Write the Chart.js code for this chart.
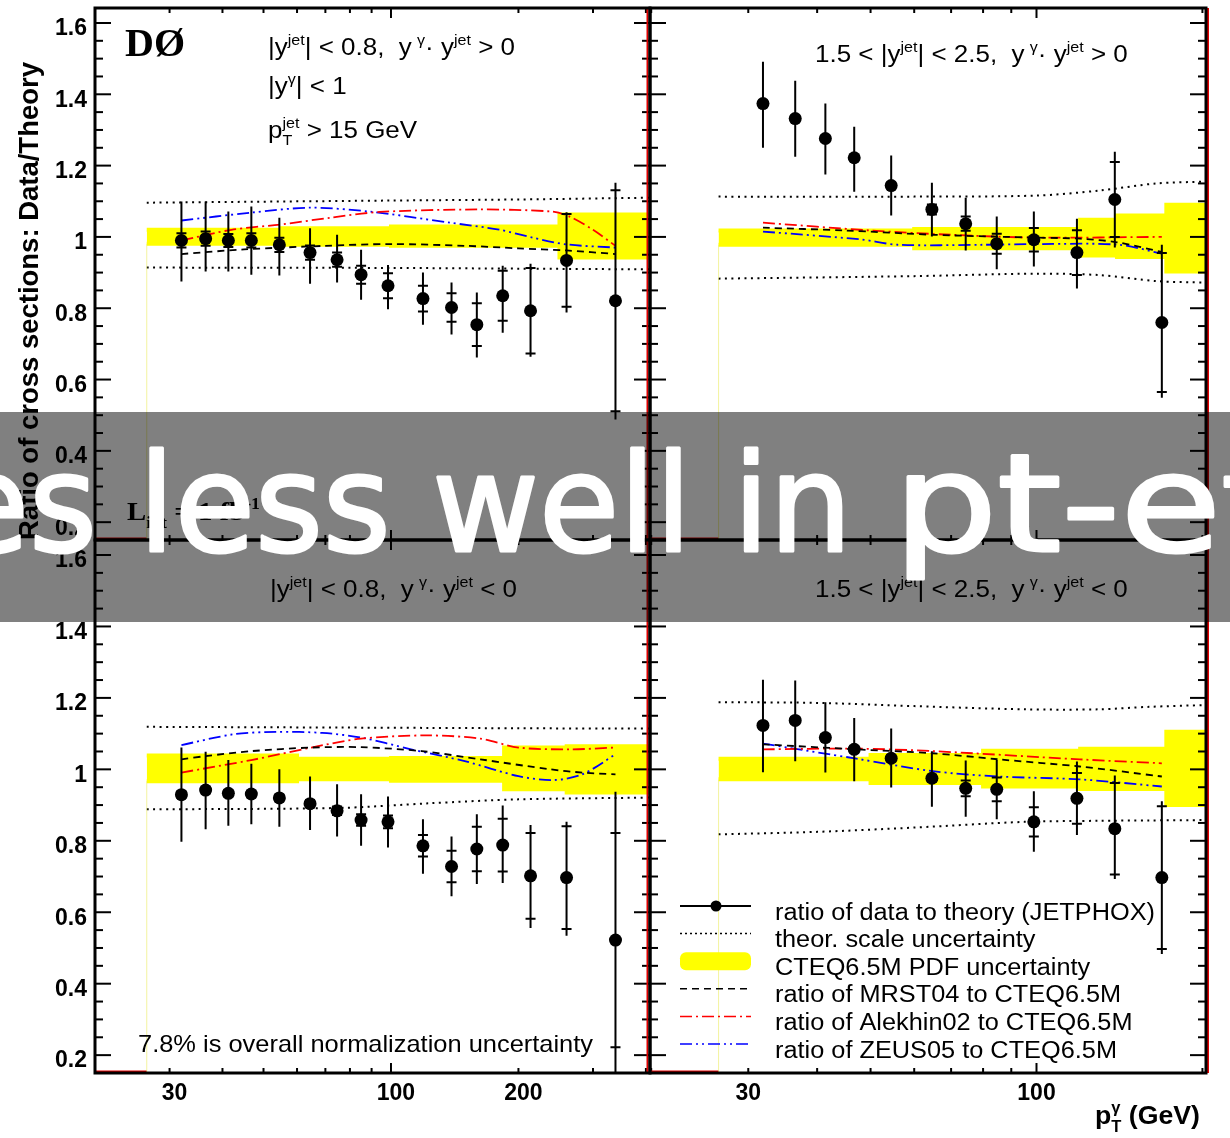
<!DOCTYPE html>
<html>
<head>
<meta charset="utf-8">
<script src="https://cdn.jsdelivr.net/npm/chart.js@4.4.1/dist/chart.umd.min.js"></script>
<style>
  body { margin: 0; background: #fff; }
  #page { position: relative; width: 1230px; height: 1138px; overflow: hidden; background: #fff; }
  #page canvas { position: absolute; left: 0; top: 0; }
  #shade { position: absolute; left: 0; top: 412px; width: 1230px; height: 210px; background: #808080; mix-blend-mode: multiply; }
</style>
</head>
<body>
<div id="page">
  <canvas id="tl" width="1230" height="1138"></canvas>
  <canvas id="tr" width="1230" height="1138"></canvas>
  <canvas id="bl" width="1230" height="1138"></canvas>
  <canvas id="br" width="1230" height="1138"></canvas>
  <div id="shade"></div>
  <canvas id="caption" width="1230" height="1138"></canvas>
</div>
<script>
// photon pT bin positions (GeV)
const ptCentral = [32, 36.5, 41.3, 46.8, 54.5, 64.4, 74.6, 85, 98.4, 119, 139, 159.5, 183.6, 213.6, 259.8, 339];
const ptForward = [31.9, 36.5, 41.4, 46.7, 54.5, 64.6, 74.4, 84.7, 98.9, 118.4, 138.7, 168.8];

// |y jet| < 0.8, y_gamma*y_jet > 0
const cpRatio = [0.990, 0.995, 0.990, 0.990, 0.978, 0.956, 0.936, 0.894, 0.863, 0.827, 0.802, 0.754, 0.835, 0.793, 0.934, 0.821];
const cpUp    = [0.109, 0.104, 0.081, 0.095, 0.076, 0.068, 0.070, 0.070, 0.058, 0.073, 0.070, 0.090, 0.084, 0.132, 0.135, 0.331];
const cpDn    = [0.115, 0.092, 0.087, 0.096, 0.086, 0.087, 0.064, 0.070, 0.066, 0.073, 0.076, 0.092, 0.104, 0.129, 0.146, 0.333];
const cpStat  = [0.020, 0.020, 0.018, 0.020, 0.020, 0.020, 0.020, 0.025, 0.035, 0.036, 0.040, 0.060, 0.070, 0.120, 0.130, 0.310];
const cpScalePt = [26.5, 100, 200, 409];
const cpScaleHi = [1.096, 1.102, 1.105, 1.110];
const cpScaleLo = [0.914, 0.913, 0.911, 0.909];
const cpMrstPt = [32, 45, 70, 100, 150, 200, 260, 339];
const cpMrst   = [0.952, 0.965, 0.975, 0.980, 0.975, 0.968, 0.962, 0.952];
const cpAlekPt = [32, 42, 55, 72, 94, 160, 240, 264, 300, 339];
const cpAlek   = [0.990, 1.020, 1.035, 1.054, 1.070, 1.077, 1.071, 1.057, 1.020, 0.975];
const cpZeusPt = [32, 46.6, 64.4, 89, 137.7, 180.6, 216, 260, 339];
const cpZeus   = [1.046, 1.068, 1.082, 1.071, 1.040, 1.020, 0.998, 0.979, 0.970];
const cpBandPt = [26.5, 55, 100, 250, 409];
const cpBandHi = [1.020, 1.024, 1.029, 1.063, 1.063];
const cpBandLo = [0.981, 0.978, 0.975, 0.942, 0.942];

// 1.5 < |y jet| < 2.5, y_gamma*y_jet > 0
const fpRatio = [1.374, 1.332, 1.276, 1.222, 1.144, 1.077, 1.037, 0.981, 0.992, 0.956, 1.105, 0.760];
const fpUp    = [0.117, 0.106, 0.098, 0.087, 0.084, 0.075, 0.073, 0.076, 0.079, 0.095, 0.134, 0.218];
const fpDn    = [0.124, 0.107, 0.101, 0.095, 0.084, 0.076, 0.075, 0.072, 0.075, 0.101, 0.135, 0.211];
const fpStat  = [0.008, 0.008, 0.008, 0.008, 0.008, 0.014, 0.020, 0.028, 0.033, 0.063, 0.105, 0.195];
const fpScalePt = [26.5, 60, 100, 130, 165, 203];
const fpScaleHi = [1.113, 1.113, 1.116, 1.130, 1.150, 1.155];
const fpScaleLo = [0.883, 0.890, 0.897, 0.893, 0.876, 0.872];
const fpMrstPt = [31.9, 45, 65, 100, 120, 140, 168.8];
const fpMrst   = [1.026, 1.018, 1.006, 0.998, 0.995, 0.985, 0.958];
const fpAlekPt = [31.9, 50, 70, 100, 168.8];
const fpAlek   = [1.040, 1.018, 1.006, 0.998, 1.000];
const fpZeusPt = [31.9, 48, 56, 80, 102, 141, 168.8];
const fpZeus   = [1.015, 0.993, 0.978, 0.978, 0.980, 0.978, 0.953];
const fpBandPt = [26.5, 60, 120, 140, 172, 203];
const fpBandHi = [1.018, 1.022, 1.048, 1.060, 1.090, 1.090];
const fpBandLo = [0.978, 0.968, 0.948, 0.944, 0.903, 0.903];

// |y jet| < 0.8, y_gamma*y_jet < 0
const cnRatio = [0.929, 0.942, 0.933, 0.931, 0.920, 0.904, 0.884, 0.858, 0.853, 0.786, 0.728, 0.777, 0.788, 0.702, 0.697, 0.522];
const cnUp    = [0.132, 0.107, 0.093, 0.085, 0.080, 0.076, 0.074, 0.072, 0.071, 0.074, 0.084, 0.097, 0.111, 0.142, 0.156, 0.415];
const cnDn    = [0.132, 0.110, 0.091, 0.085, 0.081, 0.074, 0.072, 0.072, 0.072, 0.078, 0.083, 0.098, 0.106, 0.146, 0.163, 0.420];
const cnStat  = [0.009, 0.009, 0.009, 0.009, 0.009, 0.010, 0.012, 0.016, 0.018, 0.030, 0.044, 0.062, 0.074, 0.120, 0.144, 0.300];
const cnScalePt = [26.5, 75.8, 123, 200, 409];
const cnScaleHi = [1.119, 1.117, 1.116, 1.115, 1.114];
const cnScaleLo = [0.888, 0.892, 0.905, 0.916, 0.921];
const cnMrstPt = [32, 36.5, 46.8, 64.8, 85, 118.3, 162.6, 238, 283, 339];
const cnMrst   = [1.028, 1.037, 1.051, 1.061, 1.062, 1.051, 1.028, 1.000, 0.991, 0.986];
const cnAlekPt = [32, 46.8, 64.8, 85, 122, 162.6, 200, 266, 339];
const cnAlek   = [0.991, 1.026, 1.061, 1.086, 1.095, 1.086, 1.061, 1.056, 1.061];
const cnZeusPt = [32, 42.4, 53.6, 68.8, 85, 111.5, 149.4, 200, 242, 283, 339];
const cnZeus   = [1.068, 1.098, 1.105, 1.102, 1.089, 1.056, 1.023, 0.981, 0.970, 0.986, 1.042];
const cnBandPt = [26.5, 60, 100, 185, 260, 409];
const cnBandHi = [1.039, 1.030, 1.032, 1.061, 1.065, 1.065];
const cnBandLo = [0.967, 0.972, 0.968, 0.944, 0.935, 0.935];

// 1.5 < |y jet| < 2.5, y_gamma*y_jet < 0
const fnRatio = [1.123, 1.137, 1.089, 1.056, 1.031, 0.975, 0.947, 0.944, 0.853, 0.919, 0.834, 0.697];
const fnUp    = [0.128, 0.112, 0.099, 0.088, 0.083, 0.076, 0.078, 0.082, 0.086, 0.103, 0.149, 0.214];
const fnDn    = [0.131, 0.114, 0.098, 0.089, 0.082, 0.080, 0.080, 0.084, 0.084, 0.103, 0.141, 0.214];
const fnStat  = [0.009, 0.009, 0.009, 0.009, 0.009, 0.010, 0.022, 0.033, 0.041, 0.071, 0.128, 0.200];
const fnScalePt = [26.5, 40, 60, 95, 130, 160, 203];
const fnScaleHi = [1.188, 1.186, 1.177, 1.168, 1.168, 1.175, 1.180];
const fnScaleLo = [0.818, 0.825, 0.837, 0.853, 0.856, 0.857, 0.858];
const fnMrstPt = [31.9, 47.1, 64.8, 85.3, 119.8, 168.8];
const fnMrst   = [1.070, 1.056, 1.045, 1.028, 1.008, 0.980];
const fnAlekPt = [31.9, 47.1, 64.8, 119.8, 168.8];
const fnAlek   = [1.056, 1.058, 1.051, 1.028, 1.017];
const fnZeusPt = [31.9, 47.1, 64.8, 85.3, 119.8, 168.8];
const fnZeus   = [1.072, 1.030, 0.995, 0.980, 0.972, 0.952];
const fnBandPt = [26.5, 50, 80, 120, 172, 203];
const fnBandHi = [1.030, 1.040, 1.052, 1.058, 1.105, 1.105];
const fnBandLo = [0.972, 0.962, 0.952, 0.945, 0.900, 0.900];

// axis ticks and labels
const yTickVals = [0.2, 0.4, 0.6, 0.8, 1, 1.2, 1.4, 1.6];
const xLabelsCentral = [30, 100, 200];
const xLabelsForward = [30, 100];
const xTickVals = [20, 30, 40, 50, 60, 70, 80, 90, 100, 200, 300, 400];
const legendLabels = [
  'ratio of data to theory (JETPHOX)',
  'theor. scale uncertainty',
  'CTEQ6.5M PDF uncertainty',
  'ratio of MRST04 to CTEQ6.5M',
  'ratio of Alekhin02 to CTEQ6.5M',
  'ratio of ZEUS05 to CTEQ6.5M'
];

const W = 1230, H = 1138;
const Y_MIN = 0.15, Y_MAX = 1.642;
const SANS = "'Liberation Sans', Arial, sans-serif";
const SERIF = "'Liberation Serif', 'Times New Roman', serif";

// frame of each pad on the page
const frames = {
  tl: { left: 95, right: 650, top: 8, bottom: 540 },
  tr: { left: 650, right: 1206, top: 8, bottom: 540 },
  bl: { left: 95, right: 650, top: 540, bottom: 1073 },
  br: { left: 650, right: 1206, top: 540, bottom: 1073 }
};

const xy = (xs, ys) => xs.map((x, i) => ({ x: x, y: ys[i] }));

// text with super/subscripts: runs of [text, kind]
function measureRuns(ctx, runs, size, weight, family) {
  let w = 0;
  runs.forEach(([t, kind]) => {
    const s = kind ? size * 0.62 : size;
    ctx.font = `${weight} ${s}px ${family}`;
    if (kind === 'subsup') w += Math.max(ctx.measureText(t[0]).width, ctx.measureText(t[1]).width);
    else w += ctx.measureText(t).width;
  });
  return w;
}

function drawRuns(ctx, runs, x, y, size, width, weight, family) {
  weight = weight || 'normal';
  family = family || SANS;
  const sx = width ? width / measureRuns(ctx, runs, size, weight, family) : 1;
  ctx.save();
  ctx.translate(x, y);
  ctx.scale(sx, 1);
  ctx.fillStyle = '#000';
  ctx.textAlign = 'left';
  ctx.textBaseline = 'alphabetic';
  let cx = 0;
  const small = size * 0.62;
  runs.forEach(([t, kind]) => {
    ctx.font = `${weight} ${kind ? small : size}px ${family}`;
    if (kind === 'subsup') {
      ctx.fillText(t[0], cx, size * 0.3);
      ctx.fillText(t[1], cx, -size * 0.42);
      cx += Math.max(ctx.measureText(t[0]).width, ctx.measureText(t[1]).width);
    } else {
      const dy = kind === 'sup' ? -size * 0.42 : kind === 'sub' ? size * 0.3 : 0;
      ctx.fillText(t, cx, dy);
      cx += ctx.measureText(t).width;
    }
  });
  ctx.restore();
}

const cutCentral = (sign) => [['|y', ''], ['jet', 'sup'], ['| < 0.8,  y\u2009', ''], ['\u03b3', 'sup'], ['\u00b7 y', ''], ['jet', 'sup'], [' ' + sign + ' 0', '']];
const cutForward = (sign) => [['1.5 < |y', ''], ['jet', 'sup'], ['| < 2.5,  y\u2009', ''], ['\u03b3', 'sup'], ['\u00b7 y', ''], ['jet', 'sup'], [' ' + sign + ' 0', '']];

function line(ctx, x1, y1, x2, y2) {
  ctx.beginPath();
  ctx.moveTo(x1, y1);
  ctx.lineTo(x2, y2);
  ctx.stroke();
}

// ROOT-like frame with inward ticks on all four sides
function drawFrame(chart, p) {
  const ctx = chart.ctx, a = chart.chartArea;
  const xs = chart.scales.x, ys = chart.scales.y;
  ctx.save();
  ctx.strokeStyle = '#000';
  ctx.lineWidth = 2;
  for (let k = 3; k * 0.05 <= Y_MAX + 1e-9; k++) {
    const v = k * 0.05;
    const len = k % 4 === 0 ? 16 : 8;
    const py = ys.getPixelForValue(v);
    line(ctx, a.left, py, a.left + len, py);
    line(ctx, a.right, py, a.right - len, py);
  }
  xTickVals.forEach(v => {
    if (v < xs.min || v > xs.max) return;
    const len = v === 100 ? 10 : 5;
    const px = xs.getPixelForValue(v);
    line(ctx, px, a.bottom, px, a.bottom - len);
    line(ctx, px, a.top, px, a.top + len);
  });
  // red histogram edges left by the pdf band
  ctx.strokeStyle = '#e00000';
  const bx = xs.getPixelForValue(p.bandPt[0]);
  line(ctx, a.left, a.bottom - 1.5, bx, a.bottom - 1.5);
  const rx = p.side === 'left' ? a.right - 2.5 : a.right + 2;
  line(ctx, rx, a.top, rx, a.bottom);
  ctx.strokeStyle = 'rgba(235,235,80,0.55)';
  ctx.lineWidth = 1;
  line(ctx, bx, ys.getPixelForValue(p.bandLo[0]), bx, a.bottom);
  ctx.strokeStyle = '#000';
  ctx.lineWidth = 3;
  ctx.strokeRect(a.left, a.top, a.right - a.left, a.bottom - a.top);
  ctx.restore();
}

// total error bars, with small bars at the statistical error
function drawErrors(chart, p) {
  const ctx = chart.ctx, a = chart.chartArea;
  const xs = chart.scales.x, ys = chart.scales.y;
  ctx.save();
  ctx.beginPath();
  ctx.rect(a.left, a.top, a.right - a.left, a.bottom - a.top);
  ctx.clip();
  ctx.strokeStyle = '#000';
  ctx.lineWidth = 2;
  p.pt.forEach((x, i) => {
    const px = xs.getPixelForValue(x);
    const v = p.ratio[i];
    ctx.beginPath();
    ctx.moveTo(px, ys.getPixelForValue(v + p.up[i]));
    ctx.lineTo(px, ys.getPixelForValue(v - p.dn[i]));
    [v + p.stat[i], v - p.stat[i]].forEach(s => {
      const py = ys.getPixelForValue(s);
      ctx.moveTo(px - 5, py);
      ctx.lineTo(px + 5, py);
    });
    ctx.stroke();
  });
  ctx.restore();
}

function drawLegend(chart) {
  const ctx = chart.ctx;
  const ds = chart.data.datasets;
  const x0 = 680, x1 = 751, tx = 775;
  const rowY = i => 906 + i * 27.6;
  ctx.save();
  // data
  ctx.strokeStyle = '#000';
  ctx.lineWidth = 2;
  line(ctx, x0, rowY(0), x1, rowY(0));
  ctx.fillStyle = '#000';
  ctx.beginPath();
  ctx.arc(716, rowY(0), 5.5, 0, Math.PI * 2);
  ctx.fill();
  // scale
  ctx.lineWidth = 1.5;
  ctx.setLineDash([2, 3]);
  line(ctx, x0, rowY(1), x1, rowY(1));
  // pdf band
  ctx.setLineDash([]);
  ctx.fillStyle = ds[6].backgroundColor;
  ctx.beginPath();
  ctx.roundRect(x0, rowY(2) - 9, x1 - x0, 18, 6);
  ctx.fill();
  // pdf set ratios
  [1, 2, 3].forEach((k, j) => {
    ctx.strokeStyle = ds[k].borderColor;
    ctx.lineWidth = 1.5;
    ctx.setLineDash(ds[k].borderDash);
    line(ctx, x0, rowY(3 + j), x1, rowY(3 + j));
  });
  ctx.setLineDash([]);
  ctx.restore();
  const w0 = measureRuns(ctx, [[legendLabels[0], '']], 23, 'normal', SANS);
  const sx = 380 / w0;
  legendLabels.forEach((t, i) => {
    const w = measureRuns(ctx, [[t, '']], 23, 'normal', SANS) * sx;
    drawRuns(ctx, [[t, '']], tx, rowY(i) + 13.5, 23, w);
  });
}

// shared horizontal stretch for the selection texts
const annWidth = (ctx, runs) => measureRuns(ctx, runs, 23, 'normal', SANS) * (247 / measureRuns(ctx, cutCentral('>'), 23, 'normal', SANS));

const panels = {
  tl: {
    side: 'left', xMin: 20, xMax: 409, xLabels: null, yLabels: true,
    pt: ptCentral, ratio: cpRatio, up: cpUp, dn: cpDn, stat: cpStat,
    scalePt: cpScalePt, scaleHi: cpScaleHi, scaleLo: cpScaleLo,
    mrstPt: cpMrstPt, mrst: cpMrst, alekPt: cpAlekPt, alek: cpAlek, zeusPt: cpZeusPt, zeus: cpZeus,
    bandPt: cpBandPt, bandHi: cpBandHi, bandLo: cpBandLo,
    annotate(ctx) {
      drawRuns(ctx, [['D\u00d8', '']], 125, 56, 40, 0, 'bold', SERIF);
      const r1 = cutCentral('>');
      drawRuns(ctx, r1, 268, 55, 23, annWidth(ctx, r1));
      const r2 = [['|y', ''], ['\u03b3', 'sup'], ['| < 1', '']];
      drawRuns(ctx, r2, 268, 94, 23, annWidth(ctx, r2));
      const r3 = [['p', ''], [['T', 'jet'], 'subsup'], [' > 15 GeV', '']];
      drawRuns(ctx, r3, 268, 138, 23, annWidth(ctx, r3));
      drawRuns(ctx, [['L', ''], ['int', 'sub'], [' = 1 fb', ''], ['-1', 'sup']], 127, 520, 26, 133, 'bold', SERIF);
      // axis title shared by the pads
      ctx.save();
      ctx.translate(38, 540);
      ctx.rotate(-Math.PI / 2);
      drawRuns(ctx, [['Ratio of cross sections: Data/Theory', '']], 0, 0, 27, 478, 'bold');
      ctx.restore();
    }
  },
  tr: {
    side: 'right', xMin: 19.9, xMax: 203, xLabels: null, yLabels: false,
    pt: ptForward, ratio: fpRatio, up: fpUp, dn: fpDn, stat: fpStat,
    scalePt: fpScalePt, scaleHi: fpScaleHi, scaleLo: fpScaleLo,
    mrstPt: fpMrstPt, mrst: fpMrst, alekPt: fpAlekPt, alek: fpAlek, zeusPt: fpZeusPt, zeus: fpZeus,
    bandPt: fpBandPt, bandHi: fpBandHi, bandLo: fpBandLo,
    annotate(ctx) {
      const r = cutForward('>');
      drawRuns(ctx, r, 815, 62, 23, annWidth(ctx, r));
    }
  },
  bl: {
    side: 'left', xMin: 20, xMax: 409, xLabels: xLabelsCentral, labelShift: 5, yLabels: true,
    pt: ptCentral, ratio: cnRatio, up: cnUp, dn: cnDn, stat: cnStat,
    scalePt: cnScalePt, scaleHi: cnScaleHi, scaleLo: cnScaleLo,
    mrstPt: cnMrstPt, mrst: cnMrst, alekPt: cnAlekPt, alek: cnAlek, zeusPt: cnZeusPt, zeus: cnZeus,
    bandPt: cnBandPt, bandHi: cnBandHi, bandLo: cnBandLo,
    annotate(ctx) {
      const r = cutCentral('<');
      drawRuns(ctx, r, 270, 597, 23, annWidth(ctx, r));
      drawRuns(ctx, [['7.8% is overall normalization uncertainty', '']], 138, 1052, 24, 455);
    }
  },
  br: {
    side: 'right', xMin: 19.9, xMax: 203, xLabels: xLabelsForward, labelShift: 0, yLabels: false,
    pt: ptForward, ratio: fnRatio, up: fnUp, dn: fnDn, stat: fnStat,
    scalePt: fnScalePt, scaleHi: fnScaleHi, scaleLo: fnScaleLo,
    mrstPt: fnMrstPt, mrst: fnMrst, alekPt: fnAlekPt, alek: fnAlek, zeusPt: fnZeusPt, zeus: fnZeus,
    bandPt: fnBandPt, bandHi: fnBandHi, bandLo: fnBandLo,
    annotate(ctx, chart) {
      const r = cutForward('<');
      drawRuns(ctx, r, 815, 597, 23, annWidth(ctx, r));
      drawLegend(chart);
      drawRuns(ctx, [['p', ''], [['T', '\u03b3'], 'subsup'], [' (GeV)', '']], 1095, 1124, 26, 105, 'bold');
    }
  }
};

const tickFont = { family: SANS, weight: 'bold', size: 23 };

function makePanel(id) {
  const p = panels[id];
  const f = frames[id];
  const showX = !!p.xLabels, showY = p.yLabels;
  const decor = {
    id: 'decor_' + id,
    afterDatasetsDraw(chart) { drawErrors(chart, p); },
    afterDraw(chart) {
      drawFrame(chart, p);
      p.annotate(chart.ctx, chart);
    }
  };
  return new Chart(document.getElementById(id), {
    type: 'line',
    data: {
      datasets: [
        { label: 'data', data: xy(p.pt, p.ratio), showLine: false, pointRadius: 6.5,
          pointBackgroundColor: '#000', pointBorderWidth: 0, order: 0 },
        { label: 'MRST04', data: xy(p.mrstPt, p.mrst), borderColor: '#000', borderWidth: 1.8,
          borderDash: [7, 5], pointRadius: 0, tension: 0.3, order: 1 },
        { label: 'Alekhin02', data: xy(p.alekPt, p.alek), borderColor: '#ff0000', borderWidth: 1.8,
          borderDash: [12, 4, 2, 4], pointRadius: 0, tension: 0.3, order: 1 },
        { label: 'ZEUS05', data: xy(p.zeusPt, p.zeus), borderColor: '#0000ff', borderWidth: 1.8,
          borderDash: [12, 4, 2, 4, 2, 4], pointRadius: 0, tension: 0.3, order: 1 },
        { label: 'scale up', data: xy(p.scalePt, p.scaleHi), borderColor: '#000', borderWidth: 2,
          borderDash: [2, 4.5], pointRadius: 0, tension: 0.3, order: 2 },
        { label: 'scale down', data: xy(p.scalePt, p.scaleLo), borderColor: '#000', borderWidth: 2,
          borderDash: [2, 4.5], pointRadius: 0, tension: 0.3, order: 2 },
        { label: 'pdf up', data: xy(p.bandPt, p.bandHi), stepped: true, fill: '+1',
          backgroundColor: '#ffff00', borderColor: '#ffff00', borderWidth: 4, pointRadius: 0, order: 3 },
        { label: 'pdf down', data: xy(p.bandPt, p.bandLo), stepped: true,
          borderColor: '#ffff00', borderWidth: 4, pointRadius: 0, order: 3 }
      ]
    },
    options: {
      responsive: false,
      animation: false,
      events: [],
      layout: {
        autoPadding: false,
        padding: {
          left: showY ? 0 : f.left,
          right: W - f.right,
          top: f.top,
          bottom: showX ? 0 : H - f.bottom
        }
      },
      plugins: { legend: { display: false }, tooltip: { enabled: false } },
      scales: {
        x: {
          type: 'logarithmic', min: p.xMin, max: p.xMax, display: showX,
          grid: { display: false, drawTicks: false }, border: { display: false },
          afterBuildTicks: s => { if (showX) s.ticks = p.xLabels.map(v => ({ value: v })); },
          afterFit: s => {
            s.paddingLeft = 0;
            s.paddingRight = 0;
            if (showX) s.height = H - f.bottom;
          },
          ticks: { font: tickFont, color: '#000', padding: 7, labelOffset: p.labelShift || 0,
                   maxRotation: 0, autoSkip: false, callback: v => String(v) }
        },
        y: {
          type: 'linear', min: Y_MIN, max: Y_MAX, display: showY,
          grid: { display: false, drawTicks: false }, border: { display: false },
          afterBuildTicks: s => { s.ticks = yTickVals.map(v => ({ value: v })); },
          afterFit: s => {
            s.paddingTop = 0;
            s.paddingBottom = 0;
            if (showY) s.width = f.left;
          },
          ticks: { font: tickFont, color: '#000', padding: 8, labelOffset: 6,
                   autoSkip: false, callback: v => String(v) }
        }
      }
    },
    plugins: [decor]
  });
}

['tl', 'tr', 'bl', 'br'].forEach(makePanel);

// caption strip across the middle of the figure
const cap = document.getElementById('caption').getContext('2d');
cap.font = "136px 'DejaVu Sans', sans-serif";
cap.fillStyle = '#fff';
cap.strokeStyle = '#fff';
cap.lineWidth = 3;
cap.lineJoin = 'round';
const capSx = 755 / cap.measureText('less well in ').width;
const capX = 148 - (cap.measureText('es ').width + 10) * capSx;
cap.save();
cap.translate(capX, 551);
cap.scale(capSx, 1);
cap.fillText('es less well in ', 0, 0);
cap.strokeText('es less well in ', 0, 0);
cap.restore();
// the tail is set a little wider
const tailSx = 227 / cap.measureText('pt-').width;
cap.save();
cap.translate(903 - 8 * tailSx, 551);
cap.scale(tailSx, 1);
cap.fillText('pt-et', 0, 0);
cap.strokeText('pt-et', 0, 0);
cap.restore();
</script>
</body>
</html>
